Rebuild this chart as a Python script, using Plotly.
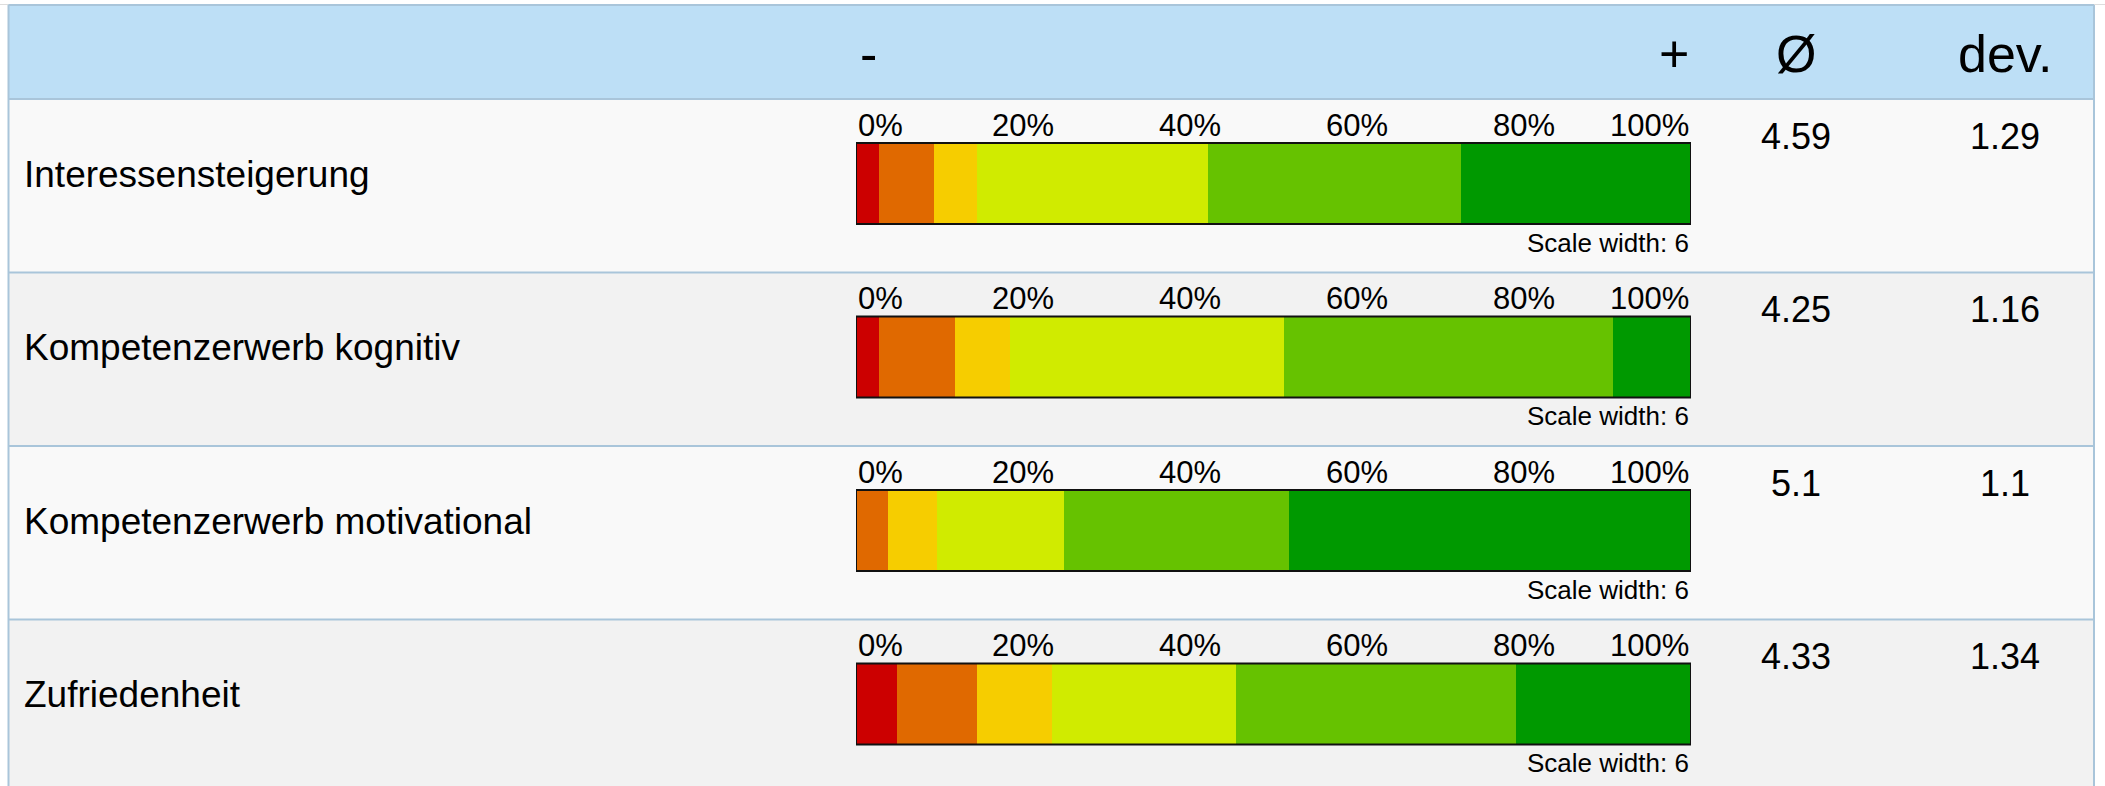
import plotly.graph_objects as go

# --- data -------------------------------------------------------------
categories = [
    "Interessensteigerung",
    "Kompetenzerwerb kognitiv",
    "Kompetenzerwerb motivational",
    "Zufriedenheit",
]
# share of answers (%) for scale points 1 (-) ... 6 (+), per item
share_1 = [2.7, 2.7, 0.0, 4.9]
share_2 = [6.6, 9.1, 3.8, 9.6]
share_3 = [5.2, 6.6, 5.9, 9.0]
share_4 = [27.7, 32.9, 15.2, 22.0]
share_5 = [30.2, 39.4, 26.9, 33.6]
share_6 = [27.6, 9.3, 48.2, 20.9]
means = ["4.59", "4.25", "5.1", "4.33"]
devs = ["1.29", "1.16", "1.1", "1.34"]
tick_values = [0, 20, 40, 60, 80, 100]
tick_labels = ["0%", "20%", "40%", "60%", "80%", "100%"]
scale_width = 6

# --- styling ----------------------------------------------------------
W, H = 2105, 786
FONT = "Liberation Sans, Arial, Helvetica, sans-serif"
seg_colors = ["#cc0000", "#e06900", "#f6cd00", "#d0eb00", "#66c200", "#009900"]
header_bg = "#bddff6"
row_bgs = ["#f9f9f9", "#f2f2f2"]
border = "#a9c5da"

table_left, table_right, table_top = 8.5, 2094, 5
header_bottom = 99
row_h = 173.5
bar_left, bar_right = 856, 1691
bar_h = 81
bar_offset = 84.5          # row top -> bar centre (px)
col_mean_x, col_dev_x = 1796, 2005


def px(x):
    return x / W


def py(y):
    return 1 - y / H


# y axis in "row units": row i's bar centre sits at pixel header_bottom + bar_offset + i*row_h
first_c = header_bottom + bar_offset
y_top = -first_c / row_h
y_bot = (H - first_c) / row_h
bar_w = bar_h / row_h

fig = go.Figure()
rows = list(range(len(categories)))
for k, shares in enumerate([share_1, share_2, share_3, share_4, share_5, share_6]):
    fig.add_trace(go.Bar(
        x=shares, y=rows, orientation="h", width=bar_w,
        marker=dict(color=seg_colors[k], line=dict(width=0)),
        name=str(k + 1), showlegend=False, hoverinfo="skip",
    ))

shapes = []
annotations = []

# thin grey line above the table
shapes.append(dict(type="line", xref="paper", yref="paper", x0=0, x1=1,
                   y0=py(table_top - 0.5), y1=py(table_top - 0.5),
                   line=dict(color="#dddddd", width=1), layer="below"))
# header band
shapes.append(dict(type="rect", xref="paper", yref="paper",
                   x0=px(table_left), x1=px(table_right),
                   y0=py(header_bottom), y1=py(table_top),
                   fillcolor=header_bg, line=dict(width=0), layer="below"))
# row bands
for i in rows:
    top = header_bottom + i * row_h
    shapes.append(dict(type="rect", xref="paper", yref="paper",
                       x0=px(table_left), x1=px(table_right),
                       y0=py(min(top + row_h, H + 5)), y1=py(top),
                       fillcolor=row_bgs[i % 2], line=dict(width=0), layer="below"))
# horizontal borders
for yb in [table_top] + [header_bottom + i * row_h for i in rows]:
    shapes.append(dict(type="line", xref="paper", yref="paper",
                       x0=px(table_left), x1=px(table_right), y0=py(yb), y1=py(yb),
                       line=dict(color=border, width=2), layer="below"))
# vertical borders
for xb in [table_left, table_right]:
    shapes.append(dict(type="line", xref="paper", yref="paper",
                       x0=px(xb), x1=px(xb), y0=py(table_top), y1=0,
                       line=dict(color=border, width=2), layer="below"))

# header texts
hdr_y = py(54)
annotations += [
    dict(text="-", x=px(bar_left + 2), y=hdr_y, xanchor="left"),
    dict(text="+", x=px(bar_right), y=hdr_y, xanchor="right"),
    dict(text="Ø", x=px(col_mean_x), y=hdr_y, xanchor="center"),
    dict(text="dev.", x=px(col_dev_x), y=hdr_y, xanchor="center"),
]
for a in annotations:
    a.update(xref="paper", yref="paper", yanchor="middle", showarrow=False,
             font=dict(family=FONT, size=52, color="#000000"))

for i in rows:
    # bar outline
    shapes.append(dict(type="rect", xref="x", yref="y", x0=0, x1=100,
                       y0=i - bar_w / 2, y1=i + bar_w / 2,
                       line=dict(color="#111111", width=2), fillcolor="rgba(0,0,0,0)",
                       layer="above"))
    # item label
    annotations.append(dict(text=categories[i], xref="paper", yref="y",
                            x=px(22), y=i - 9.5 / row_h, xanchor="left", yanchor="middle",
                            showarrow=False, font=dict(family=FONT, size=37, color="#000")))
    # percent ticks above the bar
    for tv, tl in zip(tick_values, tick_labels):
        anchor = "left" if tv == tick_values[0] else ("right" if tv == tick_values[-1] else "center")
        annotations.append(dict(text=tl, xref="x", yref="y", x=tv, y=i - 58.5 / row_h,
                                xanchor=anchor, yanchor="middle", showarrow=False,
                                font=dict(family=FONT, size=31, color="#000")))
    # scale width note
    annotations.append(dict(text=f"Scale width: {scale_width}", xref="x", yref="y",
                            x=100, y=i + 59 / row_h, xanchor="right", yanchor="middle",
                            showarrow=False, font=dict(family=FONT, size=26, color="#000")))
    # mean and deviation
    for val, cx in [(means[i], col_mean_x), (devs[i], col_dev_x)]:
        annotations.append(dict(text=val, xref="paper", yref="y", x=px(cx),
                                y=i - 47.5 / row_h, xanchor="center", yanchor="middle",
                                showarrow=False, font=dict(family=FONT, size=36, color="#000")))

fig.update_layout(
    width=W, height=H,
    margin=dict(l=0, r=0, t=0, b=0, pad=0),
    paper_bgcolor="#ffffff", plot_bgcolor="rgba(0,0,0,0)",
    barmode="stack",
    xaxis=dict(range=[0, 100], domain=[px(bar_left), px(bar_right)], visible=False,
               fixedrange=True),
    yaxis=dict(range=[y_bot, y_top], domain=[0, 1], visible=False, fixedrange=True),
    shapes=shapes, annotations=annotations,
    showlegend=False,
)

fig.write_html("out.html", config={"displayModeBar": False})
